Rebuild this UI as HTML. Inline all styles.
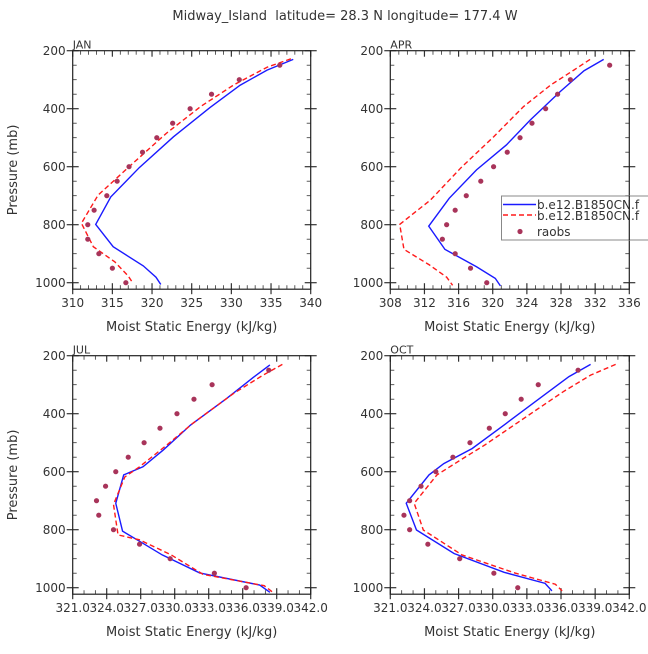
<!DOCTYPE html>
<html><head><meta charset="utf-8"><style>
body{margin:0;background:#fff;}
svg text{font-family:"DejaVu Sans","Liberation Sans",sans-serif;fill:#333;}
</style></head><body>
<svg id="chart" width="648" height="649" xmlns="http://www.w3.org/2000/svg">
<text x="345" y="20" font-size="13" text-anchor="middle" xml:space="preserve">Midway_Island  latitude= 28.3 N longitude= 177.4 W</text>
</svg>
<script>
const obsP=[250,300,350,400,450,500,550,600,650,700,750,800,850,900,950,1000];
const janModP=[230,267,319,396,497,603,704,799,876,942,981,1006];
const janBlue=[337.8,334.5,331.1,327.3,322.7,318.4,314.8,312.9,315.1,318.9,320.5,321.1];
const janRedP=[228,257,318,393,485,588,698,795,876,928,977,1002];
const janRed=[337.5,334.5,330.3,326.1,321.8,317.6,313.2,311.1,312.6,315.3,317,317.6];
const janObs=[336.1,331,327.5,324.8,322.6,320.6,318.8,317.1,315.6,314.3,312.7,311.9,311.9,313.3,315,316.7];
const aprModP=[230,269,341,439,525,611,709,805,885,945,985,1011];
const aprBlue=[333,330.7,327.9,324.4,321.6,318.1,314.9,312.5,314.4,318.1,320.3,320.9];
const aprRedP=[230,267,318,393,497,603,715,799,885,939,981,1009];
const aprRed=[331.4,329.5,326.8,323.6,320.1,316.3,312.7,309.1,309.6,312.6,314.6,315.3];
const aprObs=[333.7,329.1,327.6,326.2,324.6,323.2,321.7,320.1,318.6,316.9,315.6,314.6,314.1,315.6,317.4,319.3];
const julModP=[232,276,347,439,525,583,611,709,805,847,887,949,991,1016];
const julBlue=[338.4,336.9,334.6,331.4,329,327.2,325.5,324.8,325.4,327.2,328.9,332.2,337.5,338.4];
const julRedP=[230,267,330,433,508,583,618,713,818,835,887,954,993,1014];
const julRed=[339.5,337.8,335.2,331.6,329.3,326.9,325.6,324.6,325,326.9,329.7,332.5,337.9,338.6];
const julObs=[338.3,333.3,331.7,330.2,328.7,327.3,325.9,324.8,323.9,323.1,323.3,324.6,326.9,329.6,333.5,336.3];
const octModP=[230,272,336,433,520,572,611,709,801,882,947,985,1011];
const octBlue=[338.6,336.7,334.5,331.2,328.2,325.7,324.4,322.4,323.3,326.6,331,334.6,335.2];
const octRedP=[230,267,324,433,508,554,611,709,801,887,950,988,1011];
const octRed=[340.8,338.6,336.2,332.1,329.3,327.4,325.1,323.1,323.9,327.3,332,335.5,336.1];
const octObs=[337.5,334,332.5,331.1,329.7,328,326.5,325,323.7,322.7,322.2,322.7,324.3,327.1,330.1,332.2];
const janTicks=[310,315,320,325,330,335,340];
const aprTicks=[308,312,316,320,324,328,332,336];
const lowTicks=[321,324,327,330,333,336,339,342];
const yTicks=[200,400,600,800,1000];

const NS="http://www.w3.org/2000/svg";
const svg=document.getElementById('chart');
function mk(tag,attrs,parent){const e=document.createElementNS(NS,tag);for(const k in attrs)e.setAttribute(k,attrs[k]);(parent||svg).appendChild(e);return e;}

function panel(o){
  const g=mk('g',{});
  
  
  const x0=o.x0,x1=o.x1,y0=o.y0;
  const yTop=y0, y1000=y0+232, yBot=y0+238.5;
  const xs=v=>x0+(v-o.xmin)/(o.xmax-o.xmin)*(x1-x0);
  const ys=p=>yTop+(p-200)/800*(y1000-yTop);
  for(let p=200;p<=1020;p+=50){
    const maj=yTicks.includes(p);
    const L=maj?6:4;
    const t1=mk('line',{x1:x0-(maj?6:0),x2:x0+L,y1:ys(p),y2:ys(p),stroke:'#333','stroke-width':maj?1.2:0.8},g);
    
    
    mk('line',{x1:x1-L,x2:x1+(maj?6:0),y1:ys(p),y2:ys(p),stroke:'#333','stroke-width':maj?1.2:0.8},g);
  }
  yTicks.forEach(p=>{
    const t=mk('text',{x:x0-7,y:ys(p)+4.5,'font-size':'12','text-anchor':'end'},g);
    t.textContent=p;
    
    
  });
  const step=o.minor;
  for(let v=o.xmin;v<=o.xmax+1e-6;v+=step){
    const maj=o.ticks.some(t=>Math.abs(t-v)<1e-6);
    const L=maj?6:4;
    mk('line',{x1:xs(v),x2:xs(v),y1:yBot-L,y2:yBot+(maj?5:0),stroke:'#333','stroke-width':maj?1.2:0.8},g);
    mk('line',{x1:xs(v),x2:xs(v),y1:yTop,y2:yTop+L,stroke:'#333','stroke-width':maj?1.2:0.8},g);
  }
  o.ticks.forEach(v=>{
    const t=mk('text',{x:xs(v),y:yBot+18,'font-size':'12','text-anchor':'middle'},g);
    t.textContent=o.fmt(v);
    
    
  });
  const box=mk('rect',{x:x0,y:yTop,width:x1-x0,height:yBot-yTop,fill:'none',stroke:'#222','stroke-width':1.2},g);
  
  
  const lab=mk('text',{x:x0,y:yTop-2,'font-size':'11'},g);
  lab.textContent=o.label;
  
  
  const xt=mk('text',{x:(x0+x1)/2,y:yBot+42,'font-size':'13','text-anchor':'middle'},g);
  xt.textContent='Moist Static Energy (kJ/kg)';
  
  
  if(o.ytitle){
    const yt=mk('text',{x:0,y:0,'font-size':'13','text-anchor':'middle',transform:`translate(17,${(yTop+yBot)/2}) rotate(-90)`},g);
    yt.textContent='Pressure (mb)';
    
    
  }
  const b=mk('polyline',{points:o.blue.map((v,i)=>xs(v)+','+ys(o.blueP[i])).join(' '),fill:'none',stroke:'#1a1aff','stroke-width':1.4},g);
  
  
  const r=mk('polyline',{points:o.red.map((v,i)=>xs(v)+','+ys(o.redP[i])).join(' '),fill:'none',stroke:'#ff1a1a','stroke-width':1.4,'stroke-dasharray':'5,3'},g);
  
  
  o.obs.forEach((v,i)=>{
    const c=mk('circle',{cx:xs(v),cy:ys(obsP[i]),r:2.6,fill:'#a8345a'},g);
    
    
  });
}
const f0=v=>String(v), f1=v=>v.toFixed(1);
panel({name:'jan',label:'JAN',x0:72.7,x1:310.7,y0:50.7,xmin:310,xmax:340,minor:1,ticks:janTicks,fmt:f0,ytitle:true,blue:janBlue,blueP:janModP,red:janRed,redP:janRedP,obs:janObs});
panel({name:'apr',label:'APR',x0:390.3,x1:629.3,y0:50.7,xmin:308,xmax:336,minor:1,ticks:aprTicks,fmt:f0,ytitle:false,blue:aprBlue,blueP:aprModP,red:aprRed,redP:aprRedP,obs:aprObs});
panel({name:'jul',label:'JUL',x0:72.7,x1:310.7,y0:355.7,xmin:321,xmax:342,minor:1,ticks:lowTicks,fmt:f1,ytitle:true,blue:julBlue,blueP:julModP,red:julRed,redP:julRedP,obs:julObs});
panel({name:'oct',label:'OCT',x0:390.3,x1:629.3,y0:355.7,xmin:321,xmax:342,minor:1,ticks:lowTicks,fmt:f1,ytitle:false,blue:octBlue,blueP:octModP,red:octRed,redP:octRedP,obs:octObs});

const lg=mk('g',{});


mk('rect',{x:501.5,y:196,width:160,height:44,fill:'#fff',stroke:'#888','stroke-width':1},lg);
mk('line',{x1:503,x2:536,y1:204.5,y2:204.5,stroke:'#1a1aff','stroke-width':1.4},lg);
mk('line',{x1:503,x2:536,y1:215,y2:215,stroke:'#ff1a1a','stroke-width':1.4,'stroke-dasharray':'5,3'},lg);
mk('circle',{cx:520,cy:231.5,r:2.6,fill:'#a8345a'},lg);
[['b.e12.B1850CN.f',209],['b.e12.B1850CN.f',220],['raobs',236]].forEach((e,i)=>{
  const t=mk('text',{x:537,y:e[1],'font-size':'12'},lg);
  t.textContent=e[0];
  
  
});
mk('line',{x1:629.3,x2:629.3,y1:196,y2:240,stroke:'#222','stroke-width':1.2},lg);
</script>
</body></html>
